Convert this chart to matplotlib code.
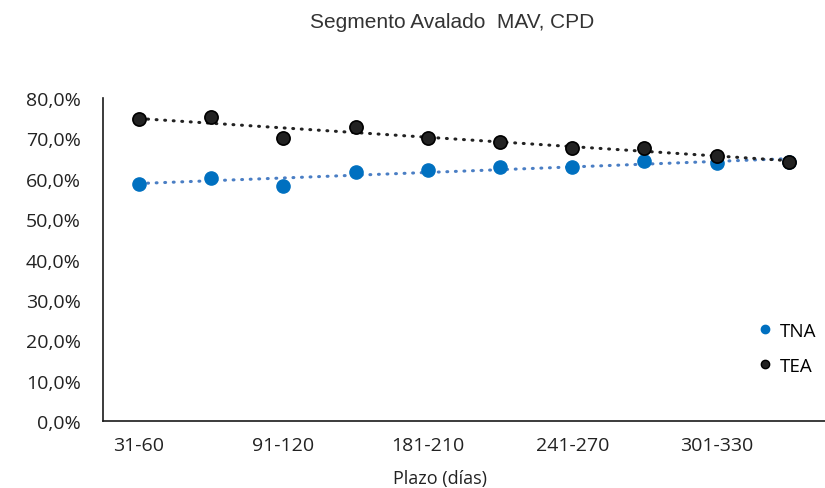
import numpy as np
import matplotlib
matplotlib.use("Agg")
import matplotlib.pyplot as plt
from matplotlib.lines import Line2D

# plazos (todos los tramos; solo se rotula uno de cada dos)
plazos = ["31-60", "61-90", "91-120", "121-180", "181-210",
          "211-240", "241-270", "271-300", "301-330", "331-360"]
tna = [58.6, 60.1, 58.2, 61.6, 62.2, 62.9, 62.9, 64.5, 64.0, 64.1]
tea = [74.8, 75.2, 70.0, 72.8, 70.0, 69.2, 67.6, 67.6, 65.7, 64.1]
yticks = [0, 10, 20, 30, 40, 50, 60, 70, 80]

blue = "#0070C0"
blue_trend = "#4A7EC4"
dark = "#222222"

fig = plt.figure(figsize=(8.25, 4.89), dpi=100)
ax = fig.add_axes([0.1248, 0.137, 0.8752, 0.6605])

x = np.arange(len(plazos))

# lineas de tendencia lineales (como en Excel)
dots = (0, (0.3, 2.5))
for vals, col in [(tna, blue_trend), (tea, dark)]:
    m, b = np.polyfit(x, vals, 1)
    ax.plot(x, m * x + b, color=col, lw=2.2, linestyle=dots,
            dash_capstyle="round", zorder=2)

ax.plot(x, tna, "o", color=blue, ms=9.5, mec=blue, zorder=3)
ax.plot(x, tea, "o", color=dark, ms=9.5, mec="black", mew=1.2, zorder=3)

ax.set_xlim(-0.5, 9.5)
ax.set_ylim(0, 80)
ax.set_yticks(yticks)
ax.set_yticklabels([f"{v:.1f}%".replace(".", ",") for v in yticks])
ax.set_xticks(x)
ax.set_xticklabels([p if i % 2 == 0 else "" for i, p in enumerate(plazos)])

for s in ["top", "right"]:
    ax.spines[s].set_visible(False)
for s in ["left", "bottom"]:
    ax.spines[s].set_linewidth(1.2)
    ax.spines[s].set_color("#1a1a1a")

ax.tick_params(axis="y", length=0, pad=16, labelsize=14, labelcolor="#222222")
ax.tick_params(axis="x", length=0, pad=11, labelsize=14, labelcolor="#222222")
for lab in ax.get_xticklabels() + ax.get_yticklabels():
    lab.set_fontfamily("Open Sans")

fig.text(0.533, 1 - 479 / 489, "Plazo (días)", ha="center", va="center",
         fontsize=13, family="Open Sans", color="#222222")

fig.text(0.548, 0.955, "Segmento Avalado  MAV, CPD", ha="center", va="center",
         fontsize=15, family="Liberation Sans", color="#333333")

handles = [Line2D([], [], ls="", marker="o", color=blue, ms=6),
           Line2D([], [], ls="", marker="o", color=dark, mec="black", ms=6)]
leg = fig.legend(handles, ["TNA", "TEA"], loc="center left",
                 bbox_to_anchor=(0.92, 0.286), frameon=False,
                 prop={"family": "Open Sans", "size": 13.5},
                 handlelength=0.6, handletextpad=0.5, labelspacing=0.9,
                 borderpad=0, borderaxespad=0)

fig.savefig("out.png", dpi=100)
